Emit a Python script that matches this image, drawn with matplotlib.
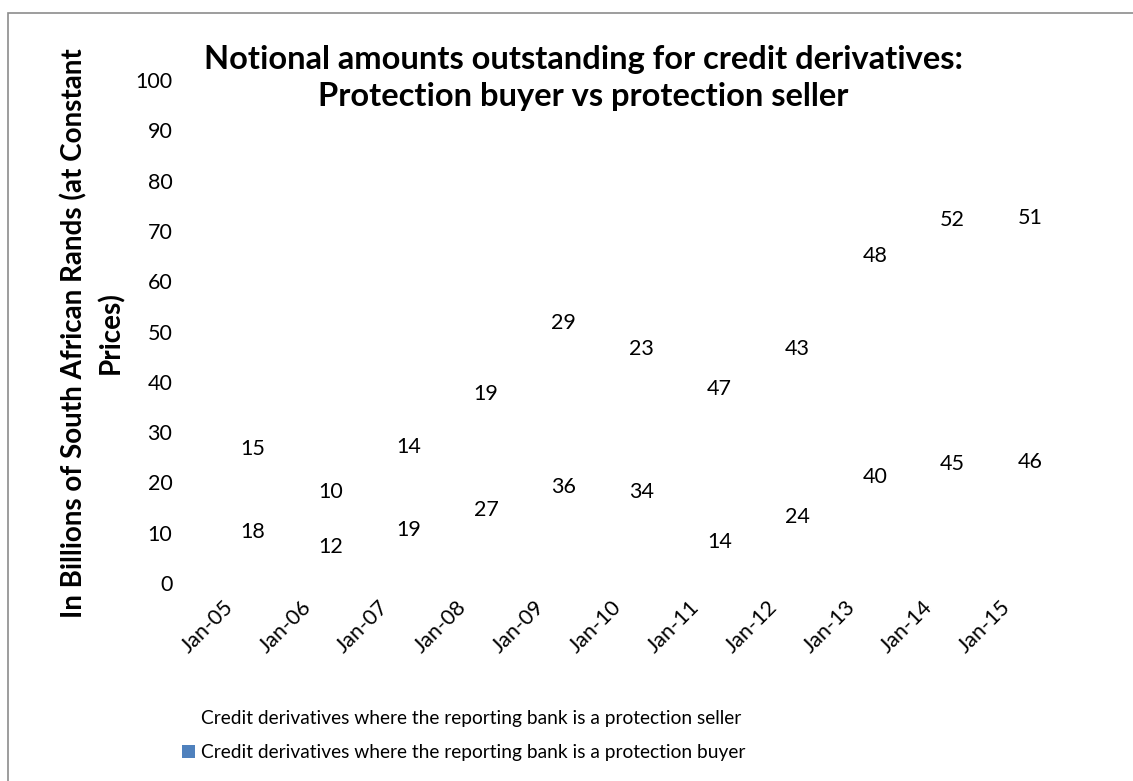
import matplotlib.pyplot as plt
import matplotlib.transforms as mtrans
from matplotlib.patches import Rectangle, Patch

plt.rcParams['font.family'] = ['Lato', 'DejaVu Sans']

# data
dates = ['Jan-05', 'Jan-06', 'Jan-07', 'Jan-08', 'Jan-09', 'Jan-10',
         'Jan-11', 'Jan-12', 'Jan-13', 'Jan-14', 'Jan-15']
buyer = [18, 12, 19, 27, 36, 34, 14, 24, 40, 45, 46]
seller = [15, 10, 14, 19, 29, 23, 47, 43, 48, 52, 51]

fig = plt.figure(figsize=(11.33, 7.81), dpi=100)
ax = fig.add_axes([0.189, 0.2535, 0.7545, 0.644])

x = range(len(dates))
# stacked bars with no fill, only the values are shown
b1 = ax.bar(x, buyer, width=0.6, color='none')
b2 = ax.bar(x, seller, width=0.6, bottom=buyer, color='none')
ax.bar_label(b1, label_type='center', fontsize=15.5, padding=4)
ax.bar_label(b2, label_type='center', fontsize=15.5, padding=4)

ax.set_xlim(-0.5, len(dates) - 0.5)
ax.set_ylim(0, 100)
ax.set_yticks(range(0, 101, 10))
ax.set_xticks(list(x))
ax.set_xticklabels(dates, rotation=45, ha='right', rotation_mode='anchor', fontsize=15.5)
ax.tick_params(axis='y', labelsize=15.5, length=0, pad=30)
ax.tick_params(axis='x', length=0, pad=10)
# shift rotated date labels a bit to the left, like the original
off = mtrans.ScaledTranslation(-0.3, 0, fig.dpi_scale_trans)
for lab in ax.get_xticklabels():
    lab.set_transform(lab.get_transform() + off)
for s in ax.spines.values():
    s.set_visible(False)

fig.text(92 / 1133, 1 - 333 / 781,
         'In Billions of South African Rands (at Constant\nPrices)',
         rotation=90, ha='center', va='center', multialignment='center',
         fontsize=20, fontweight='bold', linespacing=1.45)

fig.text(0.515, 0.9, 'Notional amounts outstanding for credit derivatives:\n'
         'Protection buyer vs protection seller',
         ha='center', va='center', fontsize=23.5, fontweight='bold', linespacing=1.33)

# chart border
fig.patches.append(Rectangle((8 / 1133, -0.01), 1.1, 1 - 13 / 781 + 0.01,
                             transform=fig.transFigure, fill=False,
                             edgecolor='#8c8c8c', linewidth=1.2))

handles = [Patch(facecolor='none', edgecolor='none'),
           Patch(facecolor='#4f81bd', edgecolor='none')]
labels = ['Credit derivatives where the reporting bank is a protection seller',
          'Credit derivatives where the reporting bank is a protection buyer']
fig.legend(handles, labels, loc='center', bbox_to_anchor=(0.409, 0.058),
           frameon=False, fontsize=13.8, handlelength=0.7, handleheight=0.7,
           handletextpad=0.3, labelspacing=0.9)

fig.savefig('out.png', dpi=100)
